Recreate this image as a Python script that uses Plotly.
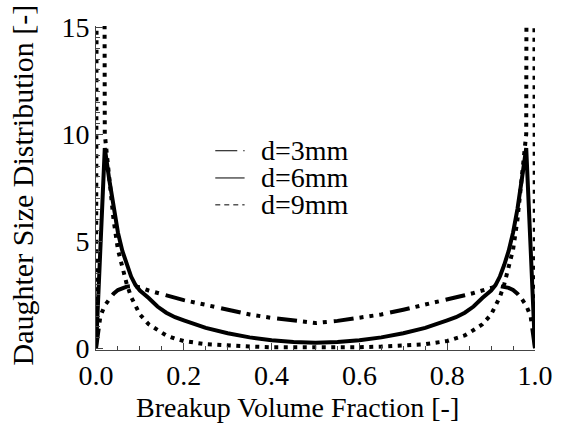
import plotly.graph_objects as go

# Breakup volume fraction grid
x_frac = [0.00, 0.01, 0.02, 0.03, 0.04, 0.05, 0.06, 0.07, 0.08, 0.09, 0.10,
          0.12, 0.14, 0.16, 0.18, 0.20, 0.25, 0.30, 0.35, 0.40, 0.45, 0.50,
          0.55, 0.60, 0.65, 0.70, 0.75, 0.80, 0.82, 0.84, 0.86, 0.88, 0.90,
          0.91, 0.92, 0.93, 0.94, 0.95, 0.96, 0.97, 0.98, 0.99, 1.00]

d3mm = [0.00, 1.50, 2.00, 2.30, 2.55, 2.72, 2.82, 2.88, 2.90, 2.88, 2.85,
        2.70, 2.58, 2.48, 2.37, 2.25, 2.03, 1.80, 1.58, 1.42, 1.28, 1.18,
        1.28, 1.42, 1.58, 1.80, 2.03, 2.25, 2.37, 2.48, 2.58, 2.70, 2.85,
        2.88, 2.90, 2.88, 2.82, 2.72, 2.55, 2.30, 2.00, 1.50, 0.00]

d6mm = [0.00, 4.70, 9.35, 7.90, 6.50, 5.40, 4.55, 3.90, 3.35, 2.95, 2.70,
        2.35, 1.95, 1.66, 1.45, 1.30, 0.95, 0.70, 0.51, 0.38, 0.29, 0.26,
        0.29, 0.38, 0.51, 0.70, 0.95, 1.30, 1.45, 1.66, 1.95, 2.35, 2.70,
        2.95, 3.35, 3.90, 4.55, 5.40, 6.50, 7.90, 9.35, 4.70, 0.00]

d9mm = [0.00, 120.0, 10.00, 8.00, 6.00, 4.60, 3.75, 3.00, 2.40, 1.95, 1.58,
        1.12, 0.85, 0.60, 0.45, 0.34, 0.19, 0.12, 0.08, 0.05, 0.04, 0.03,
        0.04, 0.05, 0.08, 0.12, 0.19, 0.34, 0.45, 0.60, 0.85, 1.12, 1.58,
        1.95, 2.40, 3.00, 3.75, 4.60, 6.00, 8.00, 10.00, 120.0, 0.00]

labels = ["d=3mm", "d=6mm", "d=9mm"]
x_ticks = [0.0, 0.2, 0.4, 0.6, 0.8, 1.0]
y_ticks = [0, 5, 10, 15]

FONT = "Liberation Serif"
DASHDOT3 = "20px,6px,4px,6px,4px,6px,4px,7px"
DOTTED = "4px,5.5px"

fig = go.Figure()
fig.add_trace(go.Scatter(x=x_frac, y=d3mm, mode="lines", name=labels[0],
                         line=dict(color="black", width=4, dash=DASHDOT3),
                         showlegend=False))
fig.add_trace(go.Scatter(x=x_frac, y=d6mm, mode="lines", name=labels[1],
                         line=dict(color="black", width=4),
                         showlegend=False))
fig.add_trace(go.Scatter(x=x_frac, y=d9mm, mode="lines", name=labels[2],
                         line=dict(color="black", width=4, dash=DOTTED),
                         showlegend=False))

# Manual legend (thin sample lines + text)
leg_y = [0.615, 0.531, 0.448]
leg_dash = ["22px,6px,2px,20px", "solid", "5px,4px"]
for yy, dsh, lab in zip(leg_y, leg_dash, labels):
    fig.add_shape(type="line", xref="paper", yref="paper",
                  x0=0.2717, x1=0.3385, y0=yy, y1=yy,
                  line=dict(color="black", width=1, dash=dsh))
    fig.add_annotation(xref="paper", yref="paper", x=0.372, y=yy,
                       text=lab, showarrow=False, xanchor="left",
                       yanchor="middle",
                       font=dict(family=FONT, size=28, color="black"))

fig.add_annotation(xref="paper", yref="paper", x=0.4588, y=-0.179,
                   text="Breakup Volume Fraction [-]", showarrow=False,
                   xanchor="center", yanchor="middle",
                   font=dict(family=FONT, size=28, color="black"))
fig.add_annotation(xref="paper", yref="paper", x=-0.167, y=0.51,
                   text="Daughter Size Distribution [-]", showarrow=False,
                   textangle=-90, xanchor="center", yanchor="middle",
                   font=dict(family=FONT, size=30, color="black"))

axis_common = dict(showgrid=False, zeroline=False, showline=True,
                   linecolor="#444", linewidth=1, ticks="inside",
                   tickcolor="#444", tickwidth=1, ticklen=7,
                   tickfont=dict(family=FONT, size=28, color="black"),
                   mirror=False)

fig.update_xaxes(range=[0, 1], tickvals=x_ticks,
                 ticktext=[f"{v:.1f}" for v in x_ticks],
                 minor=dict(dtick=0.05, ticks="inside", ticklen=4,
                            tickcolor="#444"),
                 **axis_common)
fig.update_yaxes(range=[-0.08, 15.05], tickvals=y_ticks,
                 ticktext=[str(v) for v in y_ticks],
                 minor=dict(dtick=0.5, ticks="inside", ticklen=4,
                            tickcolor="#444"),
                 **axis_common)

fig.update_layout(width=565, height=434,
                  margin=dict(l=96, r=20, t=15, b=84),
                  paper_bgcolor="white", plot_bgcolor="white",
                  showlegend=False)

fig.write_html("out.html")
